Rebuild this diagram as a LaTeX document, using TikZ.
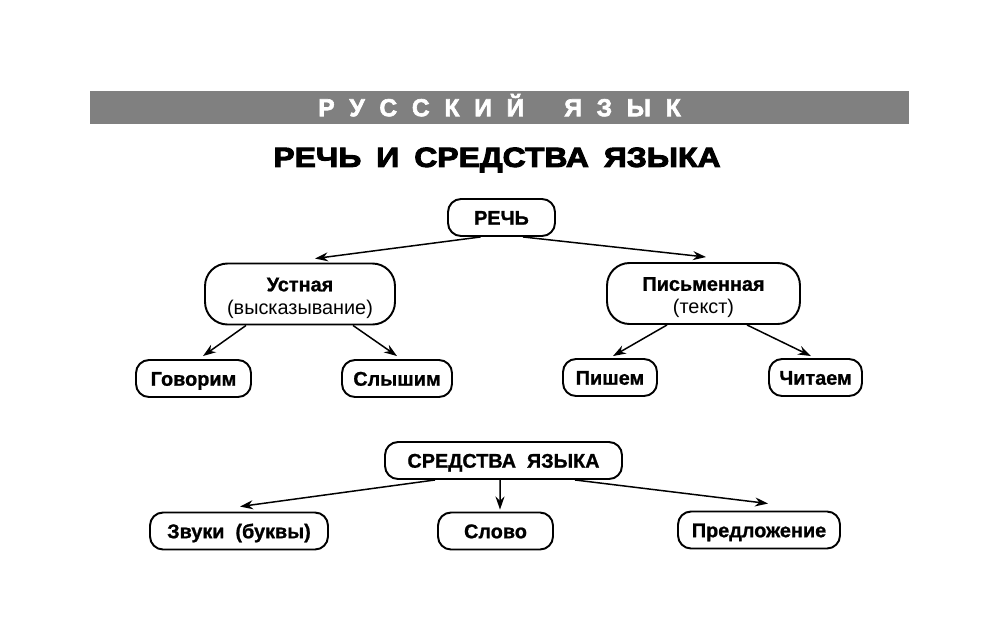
\documentclass[tikz,border=0pt]{standalone}
\usepackage{fontspec}
\setmainfont{Liberation Sans}[BoldFeatures={FakeBold=1}]
\newfontfamily\titlefont{Liberation Sans}[FakeStretch=1.15,BoldFeatures={FakeBold=3.5}]
\newfontfamily\hdrfont{Liberation Sans}[BoldFeatures={FakeBold=2.5}]
\usetikzlibrary{arrows.meta,calc}
\definecolor{hdrgray}{RGB}{128,128,128}
\newcommand\hlsp{\hspace{0.295cm}}
\begin{document}
\begin{tikzpicture}[x=0.02cm,y=-0.02cm,
  box/.style={draw,line width=1.1pt,rounded corners=0.26cm,inner sep=0pt,
    minimum height=0.74cm,text height=8.2pt,text depth=0pt,
    font=\fontsize{11.3}{13}\selectfont\bfseries},
  bigbox/.style={draw,line width=1.1pt,rounded corners=0.45cm,inner sep=0pt,
    minimum height=1.22cm,font=\fontsize{11.3}{13}\selectfont\bfseries},
  arr/.style={-{Stealth[length=2.6mm,width=1.8mm]},line width=0.85pt}]
\useasboundingbox (0,0) rectangle (1000,619);
\fill[white] (0,0) rectangle (1000,619);

\node[fill=hdrgray,minimum width=16.38cm,minimum height=0.66cm,inner sep=0pt,
  text=white,text height=9.9pt,text depth=0pt,
  font=\hdrfont\fontsize{14}{16}\selectfont\bfseries] (hdr) at (499.5,107.5)
  {Р\hlsp У\hlsp С\hlsp С\hlsp К\hlsp И\hlsp Й\hspace{0.8cm}Я\hlsp З\hlsp Ы\hlsp К};
\node[inner sep=0pt,text height=11.3pt,text depth=0pt,
  font=\titlefont\fontsize{15.8}{18}\selectfont\bfseries] (title) at (497,157)
  {РЕЧЬ\hspace{0.3cm}И\hspace{0.3cm}СРЕДСТВА\hspace{0.3cm}ЯЗЫКА};

\node[box,minimum width=2.14cm] (rech) at (501.5,217.5) {РЕЧЬ};
\node[bigbox,minimum width=3.8cm] (ust) at (300,294)
  {\begin{tabular}{@{}c@{}}\rule{0pt}{14pt}Устная\\[0.2pt]{\mdseries (высказывание)}\end{tabular}};
\node[bigbox,minimum width=3.86cm] (pis) at (703.5,293.5)
  {\begin{tabular}{@{}c@{}}\rule{0pt}{14pt}Письменная\\[0.2pt]{\mdseries (текст)}\end{tabular}};

\node[box,minimum width=2.3cm] (gov) at (193.5,378.5) {Говорим};
\node[box,minimum width=2.2cm] (sly) at (397,378.5) {Слышим};
\node[box,minimum width=1.88cm] (pish) at (610,377.5) {Пишем};
\node[box,minimum width=1.86cm] (chit) at (815.5,377.5) {Читаем};

\node[box,minimum width=4.74cm] (sred) at (503.5,460.5) {СРЕДСТВА\hspace{0.55em}ЯЗЫКА};
\node[box,minimum width=3.56cm] (zv) at (239,531) {Звуки\hspace{0.55em}(буквы)};
\node[box,minimum width=2.3cm] (slovo) at (495.5,531) {Слово};
\node[box,minimum width=3.24cm] (pred) at (759,530) {Предложение};

\draw[arr] ($(rech.south)+(-21,0)$) -- ($(ust.north)+(15,-4)$);
\draw[arr] ($(rech.south)+(21.5,0)$) -- ($(pis.north)+(2.5,-5)$);
\draw[arr] ($(ust.south)+(-54,0)$) -- ($(gov.north)+(9.5,-3)$);
\draw[arr] ($(ust.south)+(53,0)$) -- ($(sly.north)+(0,-3)$);
\draw[arr] ($(pis.south)+(-36.5,0)$) -- ($(pish.north)+(3,-2)$);
\draw[arr] ($(pis.south)+(43.5,0)$) -- ($(chit.north)+(-4.5,-2)$);
\draw[arr] ($(sred.south)+(-68.5,0)$) -- ($(zv.north)+(1,-5)$);
\draw[arr] ($(sred.south)+(-3.5,0)$) -- ($(slovo.north)+(4.5,-2)$);
\draw[arr] ($(sred.south)+(71.5,0)$) -- ($(pred.north)+(9,-7)$);
\end{tikzpicture}
\end{document}
